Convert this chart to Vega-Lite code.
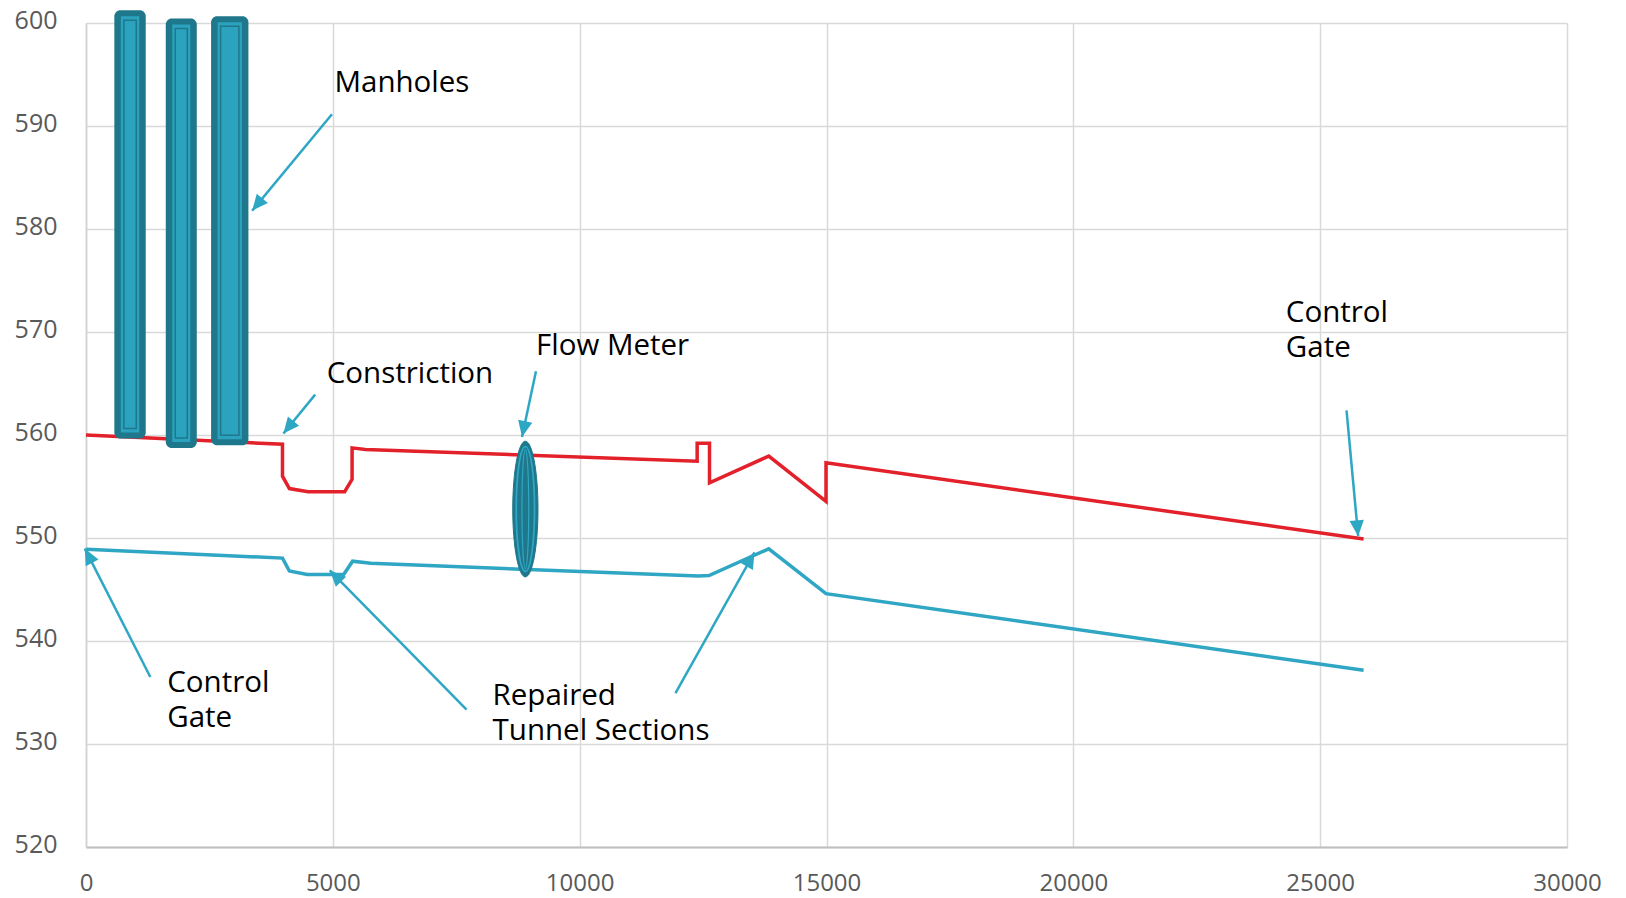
{
  "$schema": "https://vega.github.io/schema/vega-lite/v6.json",
  "autosize": "none",
  "width": 1481,
  "height": 824,
  "padding": {"left": 86, "top": 23, "right": 59, "bottom": 51},
  "background": "white",
  "config": {
    "view": {"stroke": null},
    "font": "Open Sans",
    "axis": {
      "grid": true,
      "gridColor": "#d9d9d9",
      "gridWidth": 1.5,
      "ticks": false,
      "labelFont": "Open Sans",
      "labelFontSize": 25,
      "labelColor": "#595959",
      "title": null,
      "labelOverlap": false,
      "labelBound": false,
      "labelFlush": false
    }
  },
  "datasets": {
    "profile": [
      {"series": "Water", "i": 0, "station": 0, "elev": 560.0},
      {"series": "Water", "i": 1, "station": 3980, "elev": 559.1},
      {"series": "Water", "i": 2, "station": 3980, "elev": 556.0},
      {"series": "Water", "i": 3, "station": 4120, "elev": 554.8},
      {"series": "Water", "i": 4, "station": 4500, "elev": 554.5},
      {"series": "Water", "i": 5, "station": 5240, "elev": 554.5},
      {"series": "Water", "i": 6, "station": 5390, "elev": 555.7},
      {"series": "Water", "i": 7, "station": 5390, "elev": 558.75},
      {"series": "Water", "i": 8, "station": 5660, "elev": 558.6},
      {"series": "Water", "i": 9, "station": 12380, "elev": 557.45},
      {"series": "Water", "i": 10, "station": 12380, "elev": 559.2},
      {"series": "Water", "i": 11, "station": 12630, "elev": 559.2},
      {"series": "Water", "i": 12, "station": 12630, "elev": 555.35},
      {"series": "Water", "i": 13, "station": 13830, "elev": 557.95},
      {"series": "Water", "i": 14, "station": 14990, "elev": 553.55},
      {"series": "Water", "i": 15, "station": 14990, "elev": 557.3},
      {"series": "Water", "i": 16, "station": 25880, "elev": 549.9},
      {"series": "Tunnel", "i": 0, "station": 0, "elev": 548.9},
      {"series": "Tunnel", "i": 1, "station": 3980, "elev": 548.05},
      {"series": "Tunnel", "i": 2, "station": 4120, "elev": 546.8},
      {"series": "Tunnel", "i": 3, "station": 4480, "elev": 546.45},
      {"series": "Tunnel", "i": 4, "station": 5220, "elev": 546.45},
      {"series": "Tunnel", "i": 5, "station": 5400, "elev": 547.75},
      {"series": "Tunnel", "i": 6, "station": 5770, "elev": 547.55},
      {"series": "Tunnel", "i": 7, "station": 12400, "elev": 546.3},
      {"series": "Tunnel", "i": 8, "station": 12620, "elev": 546.35},
      {"series": "Tunnel", "i": 9, "station": 13830, "elev": 548.95},
      {"series": "Tunnel", "i": 10, "station": 14990, "elev": 544.6},
      {"series": "Tunnel", "i": 11, "station": 25880, "elev": 537.15}
    ],
    "manholes": [
      {"name": "MH1", "start": 574, "end": 1210, "top": 601.23, "bottom": 559.65},
      {"name": "MH2", "start": 1616, "end": 2244, "top": 600.43, "bottom": 558.74},
      {"name": "MH3", "start": 2534, "end": 3290, "top": 600.65, "bottom": 559.0}
    ],
    "meter": [
      {"name": "Flow Meter", "station": 8900, "elev": 552.81}
    ],
    "arrows": [
      {"name": "Manholes", "x": 4982, "y": 591.14, "tx": 3365, "ty": 581.77},
      {"name": "Constriction", "x": 4642, "y": 563.92, "tx": 3999, "ty": 560.14},
      {"name": "Flow Meter", "x": 9115, "y": 566.2, "tx": 8832, "ty": 559.81},
      {"name": "Control Gate End", "x": 25534, "y": 562.4, "tx": 25770, "ty": 550.17},
      {"name": "Control Gate Start", "x": 1303, "y": 536.5, "tx": -24, "ty": 548.97},
      {"name": "Repaired 1", "x": 7709, "y": 533.34, "tx": 4938, "ty": 546.86},
      {"name": "Repaired 2", "x": 11941, "y": 534.95, "tx": 13541, "ty": 548.6}
    ],
    "labels": [
      {"label": "Manholes", "x": 5033, "y": 593.3},
      {"label": "Constriction", "x": 4877, "y": 565.09},
      {"label": "Flow Meter", "x": 9115, "y": 567.81},
      {"label": "Control\nGate", "x": 24304, "y": 570.97},
      {"label": "Control\nGate", "x": 1646, "y": 535.05},
      {"label": "Repaired\nTunnel Sections", "x": 8236, "y": 533.83}
    ]
  },
  "layer": [
    {
      "data": {"name": "profile"},
      "mark": {"type": "line", "strokeWidth": 3.5},
      "encoding": {
        "x": {
          "field": "station", "type": "quantitative",
          "scale": {"domain": [0, 30000], "nice": false},
          "axis": {"values": [0, 5000, 10000, 15000, 20000, 25000, 30000], "format": "d", "labelFontSize": 24, "labelPadding": 24, "domainColor": "#bfbfbf", "domainWidth": 2}
        },
        "y": {
          "field": "elev", "type": "quantitative",
          "scale": {"domain": [520, 600], "nice": false, "zero": false},
          "axis": {"values": [520, 530, 540, 550, 560, 570, 580, 590, 600], "labelPadding": 29, "labelOffset": -3, "domainColor": "#d0d0d0", "domainWidth": 1.5}
        },
        "color": {
          "field": "series", "type": "nominal",
          "scale": {"domain": ["Water", "Tunnel"], "range": ["#e2212b", "#2fa6c3"]},
          "legend": null
        },
        "order": {"field": "i", "type": "quantitative"}
      }
    },
    {
      "data": {"name": "manholes"},
      "mark": {"type": "rect", "color": "#1f778b", "cornerRadius": 6},
      "encoding": {
        "x": {"field": "start", "type": "quantitative"},
        "x2": {"field": "end"},
        "y": {"field": "top", "type": "quantitative"},
        "y2": {"field": "bottom"}
      }
    },
    {
      "data": {"name": "manholes"},
      "mark": {"type": "rect", "color": "#2ba3bf", "xOffset": 6.5, "x2Offset": -6.5, "yOffset": 6, "y2Offset": -6},
      "encoding": {
        "x": {"field": "start", "type": "quantitative"},
        "x2": {"field": "end"},
        "y": {"field": "top", "type": "quantitative"},
        "y2": {"field": "bottom"}
      }
    },
    {
      "data": {"name": "manholes"},
      "mark": {"type": "rect", "filled": false, "stroke": "#1f778b", "strokeWidth": 1.5, "xOffset": 9.5, "x2Offset": -9.5, "yOffset": 10, "y2Offset": -10},
      "encoding": {
        "x": {"field": "start", "type": "quantitative"},
        "x2": {"field": "end"},
        "y": {"field": "top", "type": "quantitative"},
        "y2": {"field": "bottom"}
      }
    },
    {
      "data": {"name": "meter"},
      "mark": {"type": "point", "filled": true, "fill": "#1f778b", "stroke": "#1f778b", "strokeWidth": 1, "opacity": 1, "size": 18414,
        "shape": "M0,-1C0.1027,-1 0.186,-0.5523 0.186,0C0.186,0.5523 0.1027,1 0,1C-0.1027,1 -0.186,0.5523 -0.186,0C-0.186,-0.5523 -0.1027,-1 0,-1Z"},
      "encoding": {
        "x": {"field": "station", "type": "quantitative"},
        "y": {"field": "elev", "type": "quantitative"}
      }
    },
    {
      "data": {"name": "meter"},
      "mark": {"type": "point", "filled": false, "stroke": "#2fa6c3", "strokeWidth": 1.8, "opacity": 1, "size": 18414,
        "shape": "M0,-0.92C0.0746,-0.92 0.135,-0.508 0.135,0C0.135,0.508 0.0746,0.92 0,0.92C-0.0746,0.92 -0.135,0.508 -0.135,0C-0.135,-0.508 -0.0746,-0.92 0,-0.92Z"},
      "encoding": {
        "x": {"field": "station", "type": "quantitative"},
        "y": {"field": "elev", "type": "quantitative"}
      }
    },
    {
      "data": {"name": "meter"},
      "mark": {"type": "point", "filled": false, "stroke": "#2fa6c3", "strokeWidth": 1.2, "opacity": 1, "size": 18414,
        "shape": "M0,-0.88C0.028,-0.88 0.05,-0.486 0.05,0C0.05,0.486 0.028,0.88 0,0.88C-0.028,0.88 -0.05,0.486 -0.05,0C-0.05,-0.486 -0.028,-0.88 0,-0.88Z"},
      "encoding": {
        "x": {"field": "station", "type": "quantitative"},
        "y": {"field": "elev", "type": "quantitative"}
      }
    },
    {
      "data": {"name": "arrows"},
      "mark": {"type": "rule", "color": "#2ea7c4", "strokeWidth": 2.5},
      "encoding": {
        "x": {"field": "x", "type": "quantitative"},
        "y": {"field": "y", "type": "quantitative"},
        "x2": {"field": "tx"},
        "y2": {"field": "ty"}
      }
    },
    {
      "data": {"name": "arrows"},
      "mark": {"type": "point", "filled": true, "color": "#2ea7c4", "opacity": 1, "size": 1024, "shape": "M0,0L-0.45,1L0.45,1Z"},
      "encoding": {
        "x": {"field": "tx", "type": "quantitative"},
        "y": {"field": "ty", "type": "quantitative"},
        "angle": {
          "condition": [
            {"test": "datum.name === 'Manholes'", "value": 219.6},
            {"test": "datum.name === 'Constriction'", "value": 219.1},
            {"test": "datum.name === 'Flow Meter'", "value": 191.6},
            {"test": "datum.name === 'Control Gate End'", "value": 174.7},
            {"test": "datum.name === 'Control Gate Start'", "value": 333},
            {"test": "datum.name === 'Repaired 1'", "value": 315.5}
          ],
          "value": 29.3
        }
      }
    },
    {
      "data": {"name": "labels"},
      "mark": {"type": "text", "align": "left", "baseline": "alphabetic", "font": "Open Sans", "fontSize": 29.5, "lineHeight": 35, "lineBreak": "\n", "color": "#000000"},
      "encoding": {
        "x": {"field": "x", "type": "quantitative"},
        "y": {"field": "y", "type": "quantitative"},
        "text": {"field": "label"}
      }
    }
  ]
}
